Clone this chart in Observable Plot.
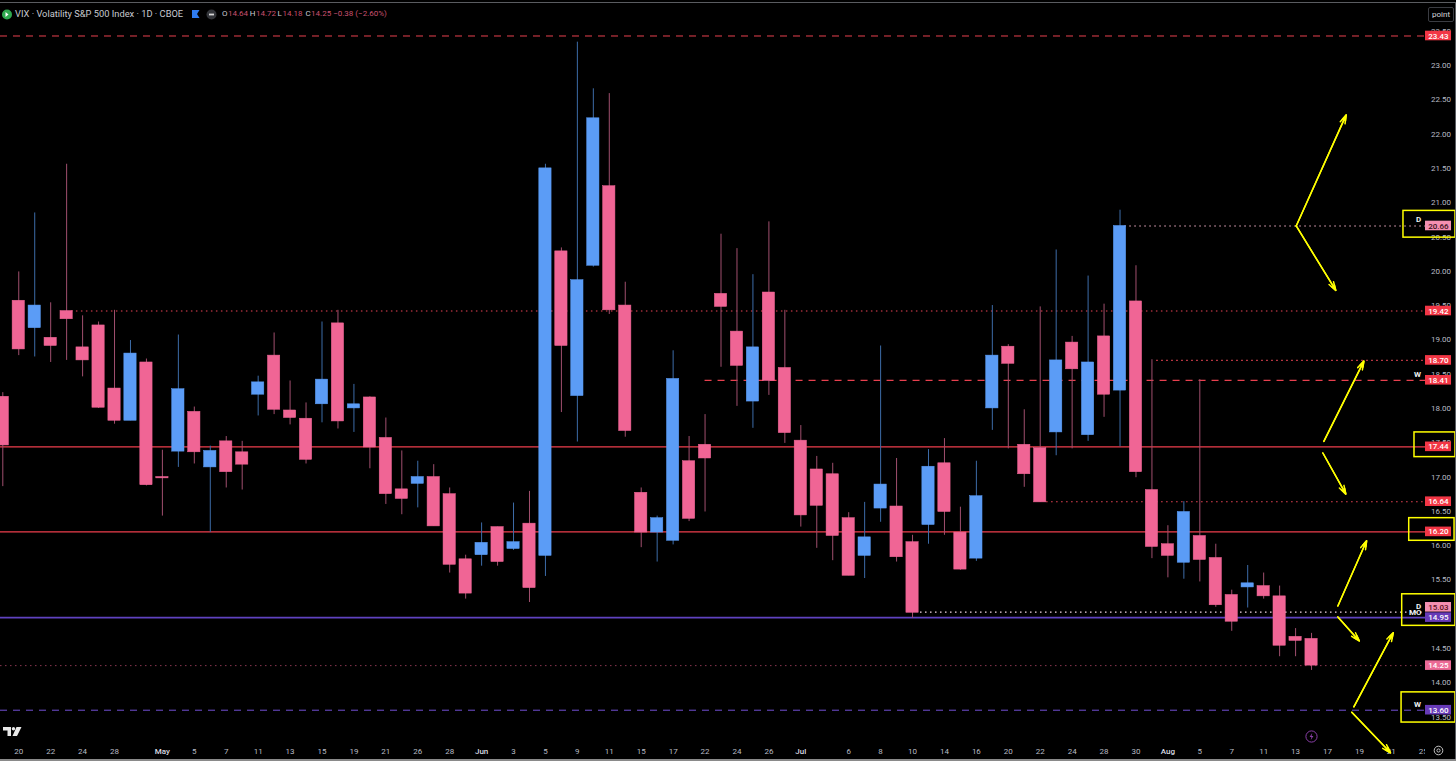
<!DOCTYPE html>
<html>
<head>
<meta charset="utf-8">
<script src="https://cdn.jsdelivr.net/npm/d3@7"></script>
<script src="https://cdn.jsdelivr.net/npm/@observablehq/plot@0.6"></script>
<style>
html,body{margin:0;padding:0;background:#000;overflow:hidden}
#wrap{position:relative;width:1456px;height:761px;background:#000}
#wrap svg.chart{display:block}
#head{position:absolute;left:15px;top:9px;font:9.3px/10px Roboto,sans-serif;color:#c8cad0;white-space:nowrap}
#ohlc{position:absolute;left:222px;top:9px;font:8px/10px Roboto,sans-serif;white-space:nowrap}
#ohlc span{display:inline-block}
#ohlc .g{width:27.8px}
#ohlc .v{color:#c9506f}
#ohlc .l{color:#c8cad0;margin-right:.5px}
#btn{position:absolute;left:1428px;top:7px;width:24px;height:13px;border:1px solid #3a3c42;border-radius:2px;font:8px/13px Roboto,sans-serif;color:#d4d6dc;text-align:center}
.ic{position:absolute}
#edgeT{position:absolute;left:0;top:2px;width:1456px;height:1px;background:#5a5c60}
#edgeR{position:absolute;left:1455px;top:2px;width:1px;height:759px;background:#5a5c60}
#edgeB{position:absolute;left:0;top:759px;width:1456px;height:2px;background:#8a8a8a}
</style>
</head>
<body>
<div id="wrap">
<div id="plot"></div>
<div id="edgeT"></div><div id="edgeR"></div><div id="edgeB"></div>
<svg class="ic" style="left:1px;top:9px" width="12" height="11" viewBox="0 0 12 11"><circle cx="6" cy="5.5" r="5" fill="#2fa84f"/><path d="M4.5 3l3 2.5-3 2.5z" fill="#fff"/></svg>
<div id="head">VIX · Volatility S&amp;P 500 Index · 1D · CBOE</div>
<svg class="ic" style="left:192px;top:10px" width="8" height="8" viewBox="0 0 8 8"><path d="M0 0h7.5L5 4l2.5 4H0z" fill="#2f7cf0"/></svg>
<svg class="ic" style="left:206px;top:9px" width="11" height="11" viewBox="0 0 11 11"><circle cx="5.5" cy="5.5" r="5" fill="#33353a"/><rect x="3" y="4.6" width="5" height="1.8" fill="#d8d8d8"/></svg>
<div id="ohlc"></div>
<div id="btn">point</div>
<svg class="ic" style="left:3px;top:726px" width="19" height="11" viewBox="0 0 19 11"><path d="M0 1h8v9H4.5V4.5H0zM9.5 10L13.5 1H18.5L14 10z" fill="#e8e8e8"/><circle cx="10.5" cy="2.7" r="1.7" fill="#e8e8e8"/></svg>
<svg class="ic" style="left:1305px;top:730px" width="13" height="13" viewBox="0 0 13 13"><circle cx="6.5" cy="6.5" r="5.6" fill="none" stroke="#8a3fa8" stroke-width="1"/><path d="M7.2 3L4.6 7h1.8L5.8 10l2.6-4H6.6z" fill="#8a3fa8"/></svg>
<svg class="ic" style="left:1433px;top:745px" width="11" height="11" viewBox="0 0 11 11"><circle cx="5.5" cy="5.5" r="4.3" fill="none" stroke="#c4c4c4" stroke-width="1"/><circle cx="5.5" cy="5.5" r="1.6" fill="none" stroke="#c4c4c4" stroke-width="1"/></svg>
</div>
<script>
// OHLC of each daily bar
const opens  = [18.17,19.57,19.17,19.03,19.42,18.89,19.21,18.29,17.82,18.67,17.00,17.37,17.95,17.14,17.52,17.36,18.20,18.77,17.97,17.85,18.06,19.24,18.00,18.16,17.57,16.82,16.90,17.00,16.75,15.80,15.86,16.27,15.95,16.32,15.85,20.29,18.18,20.08,21.24,19.50,16.77,16.19,16.07,17.23,17.47,19.67,19.12,18.10,19.69,18.59,17.53,17.11,17.04,16.40,15.85,16.54,16.57,16.05,16.30,17.20,16.19,15.81,18.00,18.90,17.47,17.42,17.65,18.96,17.61,19.05,18.26,19.56,16.81,16.02,15.75,16.14,15.82,15.28,15.39,15.41,15.26,14.67,14.64];
const closes = [17.46,18.86,19.50,18.91,19.30,18.70,18.01,17.82,18.80,16.88,16.98,18.28,17.36,17.38,17.07,17.18,18.38,17.98,17.86,17.25,18.42,17.81,18.06,17.43,16.75,16.68,17.00,16.28,15.72,15.30,16.04,15.76,16.05,15.38,21.50,18.91,19.87,22.23,19.43,17.67,16.19,16.40,18.43,16.39,17.27,19.48,18.62,18.89,18.40,17.64,16.44,16.58,16.14,15.56,16.12,16.89,15.83,15.02,17.15,16.49,15.65,16.72,18.77,18.65,17.04,16.63,18.70,18.57,18.67,18.20,20.66,17.07,15.98,15.85,16.49,15.79,15.13,14.89,15.45,15.26,14.54,14.61,14.25];
const highs  = [18.23,19.99,20.85,19.54,21.56,19.35,19.26,19.43,18.99,18.72,17.39,19.07,18.02,17.45,17.59,17.52,18.47,19.10,18.40,18.08,19.26,19.43,18.35,18.17,17.86,17.38,17.23,17.18,16.84,15.86,16.33,16.27,16.62,16.79,21.56,20.34,23.34,22.66,22.59,19.84,16.84,16.43,18.84,17.59,17.91,20.54,20.33,19.95,20.72,19.43,17.75,17.30,17.20,16.48,16.63,18.91,17.27,16.15,17.40,17.56,16.56,17.23,19.50,18.93,17.98,19.48,20.31,19.05,19.93,19.52,20.89,20.08,18.71,16.29,16.64,18.42,16.02,15.35,15.71,15.60,15.41,14.79,14.72];
const lows   = [16.86,18.77,18.75,18.67,18.70,18.46,18.00,17.77,17.82,16.87,16.43,17.14,17.19,16.19,16.84,16.81,17.89,17.91,17.76,17.19,17.79,17.70,17.65,17.12,16.60,16.45,16.55,16.28,15.60,15.22,15.70,15.70,15.93,15.17,15.55,17.94,17.51,20.06,19.37,17.58,15.97,15.76,16.01,16.35,16.49,18.60,18.03,17.71,18.19,17.49,16.27,15.96,15.78,15.56,15.52,16.34,15.76,14.94,16.02,16.15,15.64,15.77,17.68,17.41,16.85,16.63,17.31,17.41,17.52,17.87,17.44,16.99,15.81,15.53,15.51,15.47,15.10,14.75,15.09,15.22,14.38,14.38,14.18];

// date axis labels and the bar slot that carries them
const dayLabels  = ["20","22","24","28","5","7","11","13","15","19","21","26","28","3","5","9","11","15","17","22","24","26","6","8","10","14","16","20","22","24","28","30","5","7","11","13","17","19","21","25"];
const daySlots   = [1,3,5,7,12,14,16,18,20,22,24,26,28,32,34,36,38,40,42,44,46,48,53,55,57,59,61,63,65,67,69,71,75,77,79,81,83,85,87,89];
const monthLabels= ["May","Jun","Jul","Aug"];
const monthSlots = [10,30,50,73];
const priceTicks = [13.5,14,14.5,15.5,16,16.5,17,17.5,18,18.5,19,19.5,20,20.5,21,21.5,22,22.5,23,23.5];

// horizontal levels
const levelPrices = [23.43,20.66,19.42,18.70,18.41,17.44,16.64,16.20,15.03,14.95,14.25,13.60];
const tagPrices   = [23.43,20.66,19.42,18.70,18.41,17.44,16.64,16.20,15.10,14.95,14.25,13.60];
const levelStarts = [-0.144,70.3,4.3,72.3,44,-0.144,65.4,-0.144,57.5,-0.144,-0.144,-0.144];
const levelKinds  = ["dash","dot","dot","dot","dash","solid","dot","solid","dot","solid","dot","dash"];
const levelWidths = [1,1.1,1.1,1.1,1.2,1.4,1.1,1.4,1.1,1.9,1,1];
const levelColors = ["#e8404f","#f8b6cc","#ec4555","#ec4555","#e8404f","#ee3e4c","#ec4555","#ee3e4c","#f6dbe6","#5f42c0","#8a3650","#7250d4"];
const tagFills    = ["#f23645","#f48fb1","#f23645","#f23645","#f23645","#f23645","#f23645","#f23645","#f48fb1","#673ab7","#ec6a96","#673ab7"];
const tagTexts    = ["#fff","#3a1020","#fff","#fff","#fff","#fff","#fff","#fff","#5a1020","#fff","#fff","#fff"];

// hand drawn annotations, in bar slots and prices
const arrowX1 = [81.04,81.04,82.77,82.71,83.65,83.65,84.65,84.52];
const arrowY1 = [20.66,20.66,17.52,17.35,15.12,14.96,13.65,13.57];
const arrowX2 = [84.17,83.52,85.28,84.15,85.45,84.99,87.12,86.95];
const arrowY2 = [22.28,19.72,18.69,16.75,16.07,14.61,14.73,12.98];
const boxX1 = [87.76,88.45,88.12,87.68,87.64];
const boxX2 = [91.02,91.02,90.96,91.02,91.02];
const boxY1 = [20.49,17.29,16.07,14.83,13.42];
const boxY2 = [20.88,17.65,16.40,15.29,13.86];
const noteLabels = ["D","W","D","MO","W"];
const noteX = [88.7,88.64,88.7,88.5,88.64];
const noteY = [20.76,18.50,15.12,15.03,13.69];
const headerFields = ["O","H","L","C"];
const headerValues = ["14.64","14.72","14.18","14.25"];
const headerChange = "−0.38 (−2.60%)";

const bars = opens.map((o,i)=>({i,o,c:closes[i],h:highs[i],l:lows[i],up:closes[i]>=o}));
const levels = levelPrices.map((p,i)=>({p,t:tagPrices[i],s:levelStarts[i],k:levelKinds[i],w:levelWidths[i],col:levelColors[i],tag:tagFills[i],txt:tagTexts[i]}));
const idx = arr => arr.map((_,i)=>i);
const PINK="#f06595", BLUE="#5b9cf6", WP="#a04f6e", WB="#3d6ca8";
const F="Roboto, 'Noto Sans', sans-serif";
const kind = k => levels.filter(d=>d.k===k);
const arrowOpts = (len,w)=>({x1:i=>arrowX1[i],y1:i=>arrowY1[i],x2:i=>arrowX2[i],y2:i=>arrowY2[i],stroke:"#ffff00",strokeWidth:w,headLength:len,headAngle:34,bend:0});

const chart = Plot.plot({
  width:1456, height:761,
  marginTop:0, marginLeft:0, marginRight:31, marginBottom:17,
  style:{background:"#000",fontFamily:F},
  x:{type:"linear",domain:[-0.144,89.14],range:[0,1425],axis:null},
  y:{type:"linear",domain:[13.10,23.9475],range:[744,0],axis:null},
  marks:[
    Plot.axisY({anchor:"right",ticks:priceTicks,tickFormat:d=>d.toFixed(2),tickSize:0,tickPadding:5.5,fontSize:8,color:"#b8bbc4",label:null}),
    Plot.axisX({anchor:"bottom",ticks:daySlots,tickFormat:d=>dayLabels[daySlots.indexOf(d)],tickSize:0,tickPadding:4,fontSize:8,color:"#b8bbc4",label:null}),
    Plot.axisX({anchor:"bottom",ticks:monthSlots,tickFormat:d=>monthLabels[monthSlots.indexOf(d)],tickSize:0,tickPadding:4,fontSize:8,fontWeight:500,color:"#d8dae0",label:null}),
    Plot.rect([0],{x1:89.14,x2:91.2,y1:13.1,y2:12.84,fill:"#000"}),
    Plot.ruleY(kind("solid"),{y:"p",x1:"s",x2:89.14,stroke:"col",strokeWidth:"w"}),
    Plot.ruleY(kind("dash"),{y:"p",x1:"s",x2:89.14,stroke:"col",strokeWidth:"w",strokeDasharray:"7,6"}),
    Plot.ruleY(kind("dot"),{y:"p",x1:"s",x2:89.14,stroke:"col",strokeWidth:"w",strokeDasharray:"1.5,3.5"}),
    Plot.ruleX(bars.filter(d=>d.up),{x:"i",y1:"l",y2:"h",stroke:WB,strokeWidth:1}),
    Plot.ruleX(bars.filter(d=>!d.up),{x:"i",y1:"l",y2:"h",stroke:WP,strokeWidth:1}),
    Plot.rect(bars,{x1:d=>d.i-0.385,x2:d=>d.i+0.385,y1:d=>Math.min(d.o,d.c),y2:d=>Math.max(d.o,d.c),fill:d=>d.up?BLUE:PINK,stroke:d=>d.up?BLUE:PINK,strokeWidth:0.5}),
    Plot.rect(levels,{x1:89.14,x2:90.77,y1:d=>d.t-0.07,y2:d=>d.t+0.07,fill:"tag"}),
    Plot.text(levels,{x:89.95,y:"t",text:d=>d.p.toFixed(2),fill:"txt",fontSize:8,fontWeight:500}),
    Plot.text(noteLabels,{x:(_,i)=>noteX[i],y:(_,i)=>noteY[i],text:d=>d,fill:"#f0f0f0",fontSize:8,fontWeight:700}),
    Plot.rect(idx(boxX1),{x1:i=>boxX1[i],x2:i=>boxX2[i],y1:i=>boxY1[i],y2:i=>boxY2[i],fill:"none",stroke:"#ffff00",strokeWidth:1.5}),
    Plot.arrow(idx(arrowX1),arrowOpts(9,1.5)),
    Plot.arrow(idx(arrowX1),arrowOpts(6,1.5))
  ]
});
chart.classList.add("chart");
document.getElementById("plot").appendChild(chart);

document.getElementById("ohlc").innerHTML =
  headerFields.map((k,i)=>`<span class="g"><span class="l">${k}</span><span class="v">${headerValues[i]}</span></span>`).join('')+
  `<span class="v">${headerChange}</span>`;
</script>
</body>
</html>
